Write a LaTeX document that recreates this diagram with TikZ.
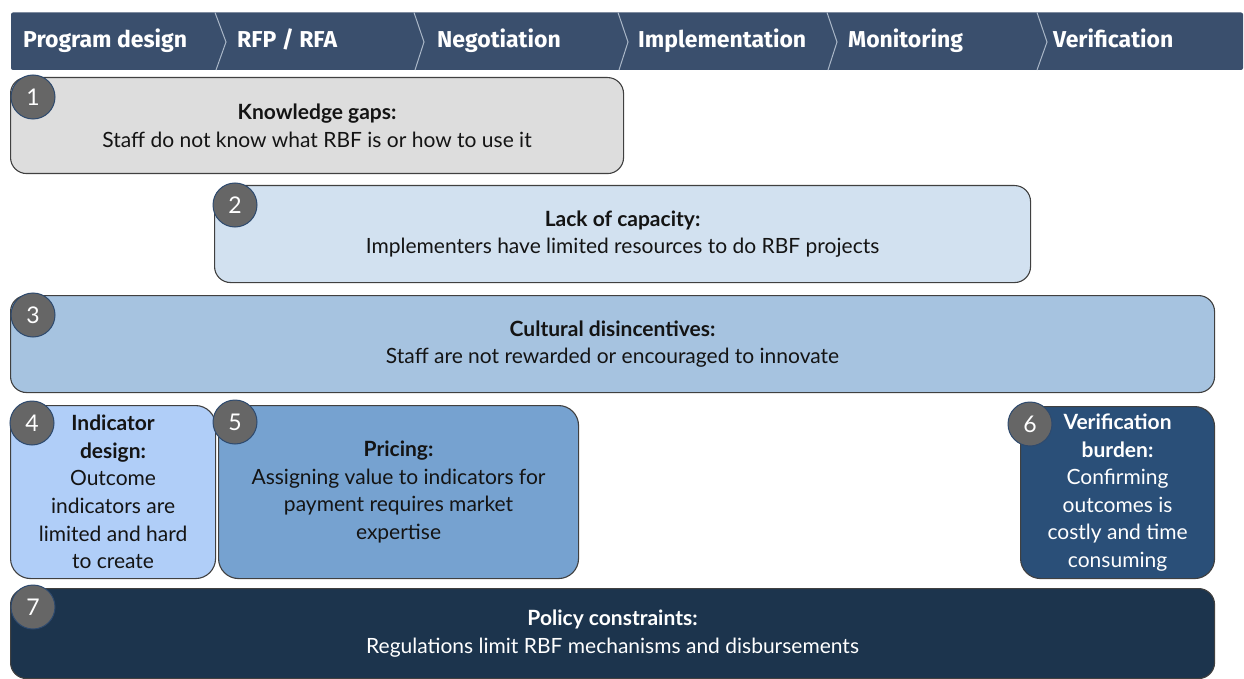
\documentclass[tikz,border=0pt]{standalone}
\usepackage{fontspec}
\setmainfont{Lato}
\newfontfamily\hdrfont{Fira Sans}
\newfontfamily\boxfont{Lato}
\definecolor{hdrfill}{RGB}{58,79,109}
\definecolor{hdrline}{RGB}{170,183,200}
\definecolor{cgray}{RGB}{221,221,221}
\definecolor{cpale}{RGB}{210,225,240}
\definecolor{cmid}{RGB}{166,195,224}
\definecolor{cperi}{RGB}{176,206,248}
\definecolor{cblue}{RGB}{118,162,208}
\definecolor{cnavy}{RGB}{42,79,120}
\definecolor{cdeep}{RGB}{28,52,77}
\definecolor{badgefill}{RGB}{102,102,102}
\definecolor{badgeline}{RGB}{46,74,110}
\definecolor{inktext}{RGB}{20,20,20}
\tikzset{
  stage/.style={anchor=base west, text=white, font=\hdrfont\bfseries\fontsize{23}{27}\selectfont, inner sep=0pt},
  divider/.style={draw=hdrline, line width=1pt},
  barrier/.style={draw=black!75, line width=1.1pt, rounded corners=16pt, anchor=north west, inner sep=0pt},
  tallbarrier/.style={barrier, rounded corners=20pt},
  txt/.style={align=center, text=inktext, font=\boxfont\fontsize{21}{27.6}\selectfont, inner sep=0pt},
  wtxt/.style={txt, text=white},
  badge/.style={circle, fill=badgefill, draw=badgeline, line width=1pt, minimum size=44pt, inner sep=0pt,
    text=white, font=\boxfont\fontsize{23}{25}\selectfont},
}
\begin{document}
\begin{tikzpicture}[x=1pt,y=-1pt]
\useasboundingbox (0,0) rectangle (1244,679);

% process header bar
\fill[hdrfill, rounded corners=2pt] (11,12.5) rectangle (1243,70);
\coordinate (d1t) at (215,12.5); \coordinate (d1m) at (226,42); \coordinate (d1b) at (216,70);
\coordinate (d2t) at (414,12.5); \coordinate (d2m) at (424,42); \coordinate (d2b) at (415,70);
\coordinate (d3t) at (618,12.5); \coordinate (d3m) at (628,42); \coordinate (d3b) at (619,70);
\coordinate (d4t) at (827,12.5); \coordinate (d4m) at (837,42); \coordinate (d4b) at (828,70);
\coordinate (d5t) at (1037,12.5); \coordinate (d5m) at (1047,42); \coordinate (d5b) at (1037,70);
\foreach \i in {1,...,5} {\draw[divider] (d\i t) -- (d\i m) -- (d\i b);}
\node[stage] (s1) at (23,48) {Program design};
\node[stage] (s2) at (237,48) {RFP / RFA};
\node[stage] (s3) at (437,48) {Negotiation};
\node[stage] (s4) at (638,48) {Implementation};
\node[stage] (s5) at (848,48) {Monitoring};
\node[stage] (s6) at (1053,48) {Verification};

% barrier boxes
\node[barrier, fill=cgray, minimum width=613pt, minimum height=96pt] (b1) at (10,77) {};
\node[txt] (t1) at (b1.center) {\textbf{Knowledge gaps:}\\Staff do not know what RBF is or how to use it};

\node[barrier, fill=cpale, minimum width=816pt, minimum height=97pt] (b2) at (214,185) {};
\node[txt] (t2) at (b2.center) {\textbf{Lack of capacity:}\\Implementers have limited resources to do RBF projects};

\node[barrier, fill=cmid, minimum width=1204pt, minimum height=97pt] (b3) at (10,295) {};
\node[txt] (t3) at (b3.center) {\textbf{Cultural disincentives:}\\Staff are not rewarded or encouraged to innovate};

\node[tallbarrier, fill=cperi, minimum width=205pt, minimum height=173pt] (b4) at (10,405) {};
\node[txt] (t4) at (b4.center) {\textbf{Indicator}\\\textbf{design:}\\Outcome\\indicators are\\limited and hard\\to create};

\node[tallbarrier, fill=cblue, minimum width=360pt, minimum height=173pt] (b5) at (218,405) {};
\node[txt] (t5) at (b5.center) {\textbf{Pricing:}\\Assigning value to indicators for\\payment requires market\\expertise};

\node[tallbarrier, fill=cnavy, minimum width=194pt, minimum height=172pt] (b6) at (1020,406) {};
\node[wtxt] (t6) at (b6.center) {\textbf{Verification}\\\textbf{burden:}\\Confirming\\outcomes is\\costly and time\\consuming};

\node[barrier, fill=cdeep, minimum width=1204pt, minimum height=90pt] (b7) at (10,588) {};
\node[wtxt] (t7) at (b7.center) {\textbf{Policy constraints:}\\Regulations limit RBF mechanisms and disbursements};

% numbered badges
\node[badge] (n1) at (33,97) {1};
\node[badge] (n2) at (235,205) {2};
\node[badge] (n3) at (33,315) {3};
\node[badge] (n4) at (32,423) {4};
\node[badge] (n5) at (235,422) {5};
\node[badge] (n6) at (1030,424) {6};
\node[badge] (n7) at (33,607) {7};
\end{tikzpicture}
\end{document}
